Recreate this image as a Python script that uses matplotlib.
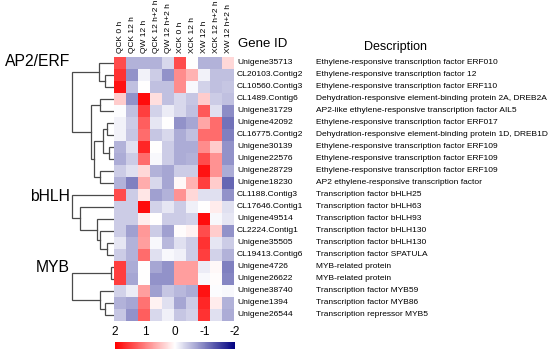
import matplotlib
matplotlib.use("Agg")
import matplotlib.pyplot as plt
import numpy as np
from matplotlib.colors import LinearSegmentedColormap

plt.rcParams['font.family'] = ['Liberation Sans', 'DejaVu Sans']

samples = ["QCK 0 h", "QCK 12 h", "QW 12 h", "QCK 12 h+2 h", "QW 12 h+2 h",
           "XCK 0 h", "XCK 12 h", "XW 12 h", "XCK 12 h+2 h", "XW 12 h+2 h"]

gene_ids = ["Unigene35713", "CL20103.Contig2", "CL10560.Contig3", "CL1489.Contig6",
            "Unigene31729", "Unigene42092", "CL16775.Contig2", "Unigene30139",
            "Unigene22576", "Unigene28729", "Unigene18230", "CL1188.Contig3",
            "CL17646.Contig1", "Unigene49514", "CL2224.Contig1", "Unigene35505",
            "CL19413.Contig6", "Unigene4726", "Unigene26622", "Unigene38740",
            "Unigene1394", "Unigene26544"]

descriptions = [
    "Ethylene-responsive transcription factor ERF010",
    "Ethylene-responsive transcription factor 12",
    "Ethylene-responsive transcription factor ERF110",
    "Dehydration-responsive element-binding protein 2A, DREB2A",
    "AP2-like ethylene-responsive transcription factor AIL5",
    "Ethylene-responsive transcription factor ERF017",
    "Dehydration-responsive element-binding protein 1D, DREB1D",
    "Ethylene-responsive transcription factor ERF109",
    "Ethylene-responsive transcription factor ERF109",
    "Ethylene-responsive transcription factor ERF109",
    "AP2 ethylene-responsive transcription factor",
    "Transcription factor bHLH25",
    "Transcription factor bHLH63",
    "Transcription factor bHLH93",
    "Transcription factor bHLH130",
    "Transcription factor bHLH130",
    "Transcription factor SPATULA",
    "MYB-related protein",
    "MYB-related protein",
    "Transcription factor MYB59",
    "Transcription factor MYB86",
    "Transcription repressor MYB5",
]

values = [
    [1.4, -0.6, -0.6, -0.6, -0.3, 1.4, 0.0, -0.6, -0.6, 0.3],
    [1.6, -0.85, -0.1, -0.4, -0.85, 0.9, 0.6, -0.1, -0.5, -0.5],
    [1.85, -0.5, 0.0, -0.5, -0.5, 0.9, -0.05, -0.35, -0.5, -0.45],
    [0.4, -0.85, 1.9, 0.25, -0.5, -0.3, -0.45, 0.4, -0.4, -0.5],
    [-0.02, -0.5, 1.5, -0.35, -0.15, -0.3, -0.5, 1.3, -0.25, -0.9],
    [-0.1, -0.4, 1.25, -0.2, 0.0, -0.85, -0.7, 0.7, 1.15, -1.1],
    [-0.1, -0.45, 1.15, -0.45, -0.3, -0.65, -0.5, 1.15, 1.15, -1.0],
    [-0.6, -0.25, 1.7, 0.0, -0.4, -0.65, -0.65, 0.9, 0.4, -0.85],
    [-0.65, -0.4, 1.15, -0.05, -0.4, -0.65, -0.6, 1.4, 0.85, -0.85],
    [-0.4, -0.25, 0.3, -0.6, -0.7, -0.4, -0.4, 1.85, 0.85, -0.65],
    [-0.6, -1.0, 0.65, -0.3, -0.7, 0.05, 0.6, 1.5, 0.4, -1.2],
    [1.4, -0.4, 0.2, -0.75, -0.6, 0.85, 0.3, -0.25, -0.25, -0.85],
    [-0.4, -0.4, 1.9, -0.35, -0.2, -0.4, -0.12, 0.0, 0.15, -0.25],
    [-0.4, -0.4, 0.15, 0.0, -0.4, -0.4, -0.35, 1.9, -0.05, -0.2],
    [-0.4, -0.75, 0.8, -0.4, -0.75, 0.03, 0.1, 1.4, 0.4, -0.85],
    [-0.2, -0.6, 0.75, -0.05, -0.55, -0.25, -0.4, 1.6, -0.2, -0.4],
    [-0.4, -0.6, 1.15, -0.25, -0.05, -0.12, -0.4, 1.5, -0.35, -0.6],
    [1.5, -0.65, 0.0, -0.7, -0.85, 0.75, 0.75, -0.15, 0.05, -1.0],
    [1.5, -0.7, 0.0, -0.85, -0.85, 0.75, 0.75, -0.05, 0.02, -0.95],
    [-0.35, -0.15, 0.75, -0.75, -0.45, -0.55, -0.65, 1.85, -0.03, -0.05],
    [-0.6, -0.7, 1.1, 0.1, -0.25, -0.7, -0.4, 1.7, 0.15, -0.6],
    [-0.45, -0.85, 1.25, -0.3, -0.12, -0.45, -0.35, 1.6, -0.25, -0.65],
]

groups = ["AP2/ERF", "bHLH", "MYB"]
group_label_rows = [-0.1, 11.1, 17.0]

# dendrogram merges: (left, right, height); leaves are row indices, merged
# nodes are referred to as ("n", k) where k is index in this list
merges = [
    (1, 2, 9), (0, ("n", 0), 15), (3, 4, 14), (5, 6, 7), (7, 8, 5),
    (("n", 3), ("n", 4), 11), (9, 10, 14), (("n", 5), ("n", 6), 20),
    (("n", 2), ("n", 7), 23), (("n", 1), ("n", 8), 42),
    (15, 16, 7), (14, ("n", 10), 14), (13, ("n", 11), 17), (12, ("n", 12), 34),
    (11, ("n", 13), 42),
    (17, 18, 3), (20, 21, 9), (19, ("n", 16), 14), (("n", 15), ("n", 17), 42),
]

data = np.array(values)
nrows, ncols = data.shape

W, H = 550, 353
fig = plt.figure(figsize=(W / 100, H / 100), dpi=100)

def px_axes(x0, y0, x1, y1):
    return fig.add_axes([x0 / W, 1 - y1 / H, (x1 - x0) / W, (y1 - y0) / H])

cmap = LinearSegmentedColormap.from_list("rwb", ["#000080", "#ffffff", "#ff0000"])

hx0, hy0, hx1, hy1 = 114, 57, 234, 321
ax = px_axes(hx0, hy0, hx1, hy1)
mesh = ax.pcolormesh(data, cmap=cmap, vmin=-2, vmax=2)
ax.set_xlim(0, ncols)
ax.set_ylim(nrows, 0)
ax.axis("off")

for j, s in enumerate(samples):
    ax.text(j + 0.5, -0.3, s, rotation=90, ha="center", va="bottom", fontsize=6.0)
for i, g in enumerate(gene_ids):
    ax.text(ncols + 0.25, i + 0.5, g, ha="left", va="center", fontsize=6.1)
for i, d in enumerate(descriptions):
    ax.text(ncols + 6.85, i + 0.5, d, ha="left", va="center", fontsize=6.0)
ax.text(ncols + 0.3, -0.55, "Gene ID", ha="left", va="bottom", fontsize=9.5)
ax.text(ncols + 10.8, -0.3, "Description", ha="left", va="bottom", fontsize=9)

# dendrogram
dax = px_axes(60, hy0, hx0, hy1)
dax.set_xlim(54, 0)
dax.set_ylim(nrows, 0)
dax.axis("off")
pos = []
def ypos(node):
    if isinstance(node, tuple):
        return pos[node[1]]
    return node + 0.5
def hgt(node):
    if isinstance(node, tuple):
        return merges[node[1]][2]
    return 0
for a, b, h in merges:
    ya, yb = ypos(a), ypos(b)
    ha_, hb_ = hgt(a), hgt(b)
    dax.plot([ha_, h, h, hb_], [ya, ya, yb, yb], color="#4a4a4a", lw=0.9,
             solid_joinstyle="miter")
    pos.append((ya + yb) / 2)

for g, r in zip(groups, group_label_rows):
    ax.text(-3.65, r + 0.5, g, ha="right", va="center", fontsize=11.3)

# colorbar
cax = px_axes(115, 342, 235, 349)
cb = fig.colorbar(mesh, cax=cax, orientation="horizontal")
cb.outline.set_visible(False)
cax.invert_xaxis()
cb.set_ticks([2, 1, 0, -1, -2])
cb.set_ticklabels(["2", "1", "0", "-1", "-2"])
cax.xaxis.set_ticks_position("top")
cax.tick_params(length=0, labelsize=8.5, pad=3)

fig.savefig("out.png", dpi=100)
